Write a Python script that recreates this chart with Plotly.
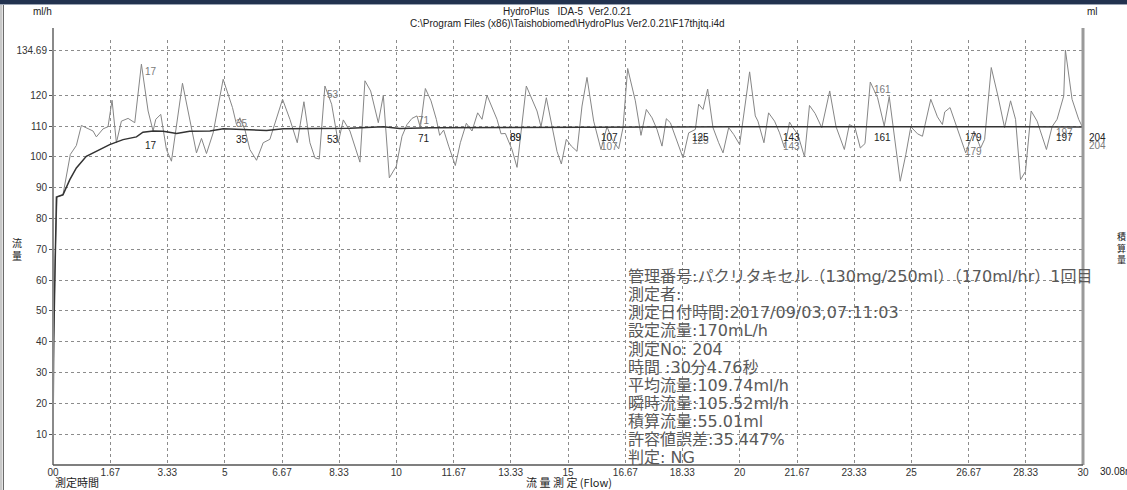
import numpy as np
import plotly.graph_objects as go

# ---------------------------------------------------------------------------
# Measurement data
# ---------------------------------------------------------------------------
# instantaneous flow trace (ml/h) against elapsed time (min)
flow_time = [
    0.0, 0.03, 0.06, 0.12, 0.29, 0.505, 0.68, 0.826, 1.166, 1.263, 1.458, 1.603,
    1.72, 1.846, 1.992, 2.187, 2.381, 2.575, 2.77, 2.915, 2.993, 3.139, 3.304,
    3.45, 3.771, 4.179, 4.325, 4.47, 4.665, 4.956, 5.228, 5.345, 5.442, 5.588,
    5.734, 5.928, 6.122, 6.317, 6.686, 6.9, 7.114, 7.308, 7.483, 7.629, 7.755,
    7.92, 8.115, 8.309, 8.455, 8.649, 8.94, 9.086, 9.252, 9.475, 9.621, 9.796,
    10.0, 10.165, 10.311, 10.456, 10.602, 10.699, 10.845, 11.01, 11.165, 11.262,
    11.379, 11.524, 11.718, 11.864, 12.039, 12.204, 12.369, 12.495, 12.641,
    12.932, 13.049, 13.175, 13.369, 13.515, 13.786, 14.097, 14.214, 14.369,
    14.534, 14.68, 14.806, 14.951, 15.097, 15.262, 15.408, 15.553, 15.748,
    15.961, 16.136, 16.282, 16.476, 16.602, 16.738, 16.961, 17.126, 17.282,
    17.447, 17.592, 17.738, 17.864, 17.981, 18.155, 18.35, 18.515, 18.709,
    18.806, 18.932, 19.068, 19.223, 19.388, 19.515, 19.68, 19.825, 20.0,
    20.29, 20.455, 20.532, 20.707, 20.842, 21.016, 21.162, 21.307, 21.452,
    21.549, 21.694, 21.888, 22.033, 22.197, 22.391, 22.623, 22.807, 23.049,
    23.195, 23.359, 23.514, 23.65, 23.804, 24.017, 24.211, 24.356, 24.501,
    24.676, 24.84, 24.985, 25.179, 25.324, 25.566, 25.76, 25.905, 25.973,
    26.128, 26.341, 26.583, 26.825, 27.018, 27.135, 27.328, 27.522, 27.715,
    27.89, 28.035, 28.18, 28.325, 28.49, 28.664, 28.935, 29.1, 29.245, 29.439,
    29.487, 29.681, 29.874, 30.019, 30.08,
]
flow_rate = [
    23.0, 52.0, 67.0, 87.0, 87.7, 100.8, 103.7, 110.2, 108.4, 106.5, 109.1, 109.8,
    118.4, 104.6, 111.6, 112.5, 111.1, 130.1, 114.9, 108.4, 112.2, 113.8, 102.4,
    98.6, 123.9, 101.3, 106.0, 101.1, 107.8, 125.2, 116.0, 110.5, 112.7, 108.9,
    102.4, 98.9, 104.6, 105.7, 118.7, 112.2, 104.6, 117.9, 104.6, 99.7, 99.3,
    123.0, 117.1, 104.6, 112.0, 108.4, 98.3, 124.7, 121.4, 111.1, 120.0, 93.2,
    97.0, 106.7, 110.5, 112.5, 113.3, 109.5, 122.2, 118.2, 112.2, 107.0,
    108.7, 103.5, 97.2, 104.6, 110.9, 108.4, 114.3, 112.2, 120.0,
    112.2, 107.5, 107.6, 102.4, 96.6, 123.0, 114.9, 109.8, 119.2,
    110.5, 101.8, 97.7, 105.7, 103.5, 101.8, 116.5, 125.8, 111.6,
    102.4, 109.8, 105.7, 102.6, 109.5, 128.7, 118.2, 107.0, 115.4,
    112.7, 108.9, 103.5, 112.4, 111.1, 105.7, 99.7, 107.8, 108.9,
    117.1, 115.4, 122.0, 109.5, 104.6, 101.3, 109.5, 107.3, 104.0,
    127.6, 113.3, 111.6, 104.6, 114.3, 111.6, 107.8, 102.9, 111.3,
    109.5, 107.3, 100.0, 116.7, 114.1, 109.5, 121.4, 109.8, 102.4,
    110.5, 109.5, 102.9, 104.3, 124.3, 119.2, 110.0, 119.6, 106.7,
    92.1, 100.8, 109.8, 107.5, 106.7, 118.7, 113.0, 110.5, 114.6,
    116.0, 108.9, 101.3, 108.4, 102.9, 105.7, 129.0, 119.8, 109.5,
    118.2, 112.2, 92.6, 95.3, 114.9, 111.6, 102.4, 109.8, 112.2, 119.8,
    134.69, 118.7, 112.2, 108.9, 105.52,
]

# running average flow (ml/h)
avg_time = [0.0, 0.02, 0.1, 0.29, 0.49, 0.68, 0.97, 1.26, 1.65, 2.04, 2.43, 2.62,
            2.92, 3.21, 3.6, 3.98, 4.57, 4.96, 5.73, 6.22, 6.71, 7.68, 8.65, 9.62,
            10.1, 11.0, 13.0, 15.0, 17.0, 20.0, 23.0, 26.0, 30.08]
avg_rate = [8.5, 40.0, 87.0, 87.7, 92.6, 96.4, 100.2, 101.8, 104.0, 105.6, 106.5,
            108.0, 108.4, 108.3, 107.6, 108.3, 108.4, 109.1, 108.9, 108.6, 109.1,
            109.1, 109.3, 109.8, 109.2, 109.5, 109.6, 109.7, 109.7, 109.8, 109.8,
            109.8, 109.74]

# numbered samples marked on the chart and their instantaneous flow
mark_no = [17, 35, 53, 71, 89, 107, 125, 143, 161, 179, 197, 204]
mark_flow = [129.5, 112.6, 122.0, 113.6, 108.2, 105.0, 107.1, 105.0, 123.6,
             103.5, 109.7, 105.52]
total_samples = 204
total_minutes = 30.08

# axis ticks
x_tick_vals = [0, 1.67, 3.33, 5, 6.67, 8.33, 10, 11.67, 13.33, 15, 16.67, 18.33,
               20, 21.67, 23.33, 25, 26.67, 28.33, 30]
x_tick_text = ["00", "1.67", "3.33", "5", "6.67", "8.33", "10", "11.67", "13.33",
               "15", "16.67", "18.33", "20", "21.67", "23.33", "25", "26.67",
               "28.33", "30"]
flow_tick_vals = [10, 20, 30, 40, 50, 60, 70, 80, 90, 100, 110, 120, 134.69]
flow_tick_text = ["10", "20", "30", "40", "50", "60", "70", "80", "90", "100",
                  "110", "120", "134.69"]
vol_tick_vals = [4, 8, 12, 16, 20, 24, 28, 32, 36, 40, 44, 48, 52, 55.01]
vol_tick_text = ["4", "8", "12", "16", "20", "24", "28", "32", "36", "40", "44",
                 "48", "52", "55.01"]
flow_max = 134.69
vol_max = 55.01

info_lines = [
    "管理番号:パクリタキセル（130mg/250ml）（170ml/hr）1回目",
    "測定者:",
    "測定日付時間:2017/09/03,07:11:03",
    "設定流量:170mL/h",
    "測定No: 204",
    "時間 :30分4.76秒",
    "平均流量:109.74ml/h",
    "瞬時流量:105.52ml/h",
    "積算流量:55.01ml",
    "許容値誤差:35.447%",
    "判定: NG",
]

# ---------------------------------------------------------------------------
# Layout geometry (pixels)
# ---------------------------------------------------------------------------
W, H = 1127, 490
L, R, T, B = 53, 44, 40, 25
PW, PH = W - L - R, H - T - B
X_MAX = 30.0
Y_TOP = 137.94
Y2_TOP = Y_TOP * vol_max / flow_max


def px(x):
    return (x - L) / PW


def py(y):
    return (H - B - y) / PH


LATIN = "Liberation Sans, Arial, sans-serif"
JP = "Noto Sans CJK JP, sans-serif"
INFO_FONT = "DejaVu Sans, Noto Sans CJK JP, sans-serif"

fig = go.Figure()

fig.add_trace(go.Scatter(
    x=flow_time, y=flow_rate, mode="lines",
    line=dict(color="#868686", width=1), hoverinfo="skip",
))
fig.add_trace(go.Scatter(
    x=avg_time, y=avg_rate, mode="lines",
    line=dict(color="#333333", width=1.5), hoverinfo="skip",
))

annotations = []

# sample-number markers
mark_time = [n * total_minutes / total_samples for n in mark_no]
mark_avg = np.interp(mark_time, avg_time, avg_rate)
for n, t, fv, av in zip(mark_no, mark_time, mark_flow, mark_avg):
    annotations.append(dict(
        x=min(t, X_MAX), y=fv, xref="x", yref="y", text=str(n), showarrow=False,
        xanchor="left", yanchor="top", xshift=4, yshift=2,
        font=dict(family=LATIN, size=10, color="#7a7a7a"),
    ))
    annotations.append(dict(
        x=min(t, X_MAX), y=float(av), xref="x", yref="y", text=str(n), showarrow=False,
        xanchor="left", yanchor="top", xshift=4, yshift=-3,
        font=dict(family=LATIN, size=10, color="#222222"),
    ))

# information block
line_centres = [276, 294.5, 312.5, 330.5, 349, 367, 385, 403, 421, 439, 457]
for text, yc in zip(info_lines, line_centres):
    annotations.append(dict(
        x=px(626), y=py(yc), xref="paper", yref="paper", text=text,
        showarrow=False, xanchor="left", yanchor="middle",
        font=dict(family=INFO_FONT, size=16, color="#595959"),
    ))

# titles and axis captions
captions = [
    dict(x=px(567), y=py(12), text="HydroPlus   IDA-5  Ver2.0.21",
         font=dict(family=LATIN, size=10, color="#222")),
    dict(x=px(567), y=py(23.5),
         text="C:\\Program Files (x86)\\Taishobiomed\\HydroPlus Ver2.0.21\\F17thjtq.i4d",
         font=dict(family=LATIN, size=10, color="#222")),
    dict(x=px(42), y=py(12), text="ml/h", font=dict(family=LATIN, size=10, color="#222")),
    dict(x=px(1092), y=py(12), text="ml", font=dict(family=LATIN, size=10, color="#222")),
    dict(x=px(17), y=py(249), text="流<br>量", font=dict(family=JP, size=10, color="#222")),
    dict(x=px(1121), y=py(248), text="積<br>算<br>量", font=dict(family=JP, size=9, color="#222")),
    dict(x=px(53), y=py(482), text="測定時間", xanchor="left",
         font=dict(family=JP, size=11, color="#222")),
    dict(x=px(569), y=py(482), text="流 量 測 定 (Flow)",
         font=dict(family=JP, size=11, color="#222")),
    dict(x=px(1098), y=py(472), text="30.08min", xanchor="left",
         font=dict(family=LATIN, size=10, color="#222")),
]
for a in captions:
    a.setdefault("xref", "paper")
    a.setdefault("yref", "paper")
    a.setdefault("showarrow", False)
    a.setdefault("xanchor", "center")
    a.setdefault("yanchor", "middle")
annotations += captions

# window frame and axis lines
shapes = [
    dict(type="rect", xref="paper", yref="paper", x0=px(0), x1=px(W), y0=py(0), y1=py(4),
         fillcolor="#22324f", line=dict(width=0), layer="above"),
    dict(type="line", xref="paper", yref="paper", x0=px(0), x1=px(W), y0=py(4.5), y1=py(4.5),
         line=dict(color="#9aa4b4", width=1), layer="above"),
    dict(type="rect", xref="paper", yref="paper", x0=px(0), x1=px(2.5), y0=py(5), y1=py(H),
         fillcolor="#c8c8c8", line=dict(width=0), layer="above"),
    dict(type="line", xref="paper", yref="paper", x0=px(3.5), x1=px(3.5), y0=py(5), y1=py(H),
         line=dict(color="#6a6a6a", width=1), layer="above"),
    # left axis
    dict(type="line", xref="paper", yref="paper", x0=0, x1=0, y0=0, y1=py(28),
         line=dict(color="#8a8a8a", width=2), layer="above"),
    # right axis
    dict(type="line", xref="paper", yref="paper", x0=1, x1=1, y0=0, y1=py(28),
         line=dict(color="#9a9a9a", width=3), layer="above"),
    # bottom axis
    dict(type="line", xref="paper", yref="paper", x0=0, x1=1, y0=0, y1=0,
         line=dict(color="#555555", width=1.5), layer="above"),
]

grid = dict(showgrid=True, gridcolor="#8c8c8c", gridwidth=1, griddash="dot")

fig.update_layout(
    width=W, height=H,
    margin=dict(l=L, r=R, t=T, b=B, pad=0),
    paper_bgcolor="white", plot_bgcolor="white",
    showlegend=False,
    xaxis=dict(range=[0, X_MAX], tickvals=x_tick_vals, ticktext=x_tick_text,
               ticks="", showline=False, zeroline=False, fixedrange=True,
               tickfont=dict(family=LATIN, size=10, color="#333"), **grid),
    yaxis=dict(range=[0, Y_TOP], tickvals=flow_tick_vals, ticktext=flow_tick_text,
               ticks="outside", ticklen=3, tickcolor="#555", showline=False,
               zeroline=False, fixedrange=True,
               tickfont=dict(family=LATIN, size=10, color="#333"), **grid),
    yaxis2=dict(range=[0, Y2_TOP], overlaying="y", side="right",
                tickvals=vol_tick_vals, ticktext=vol_tick_text,
                ticks="outside", ticklen=4, tickcolor="#555", showgrid=False,
                showline=False, zeroline=False, fixedrange=True,
                tickfont=dict(family=LATIN, size=10, color="#333")),
    annotations=annotations,
    shapes=shapes,
)

fig.write_html("out.html")
